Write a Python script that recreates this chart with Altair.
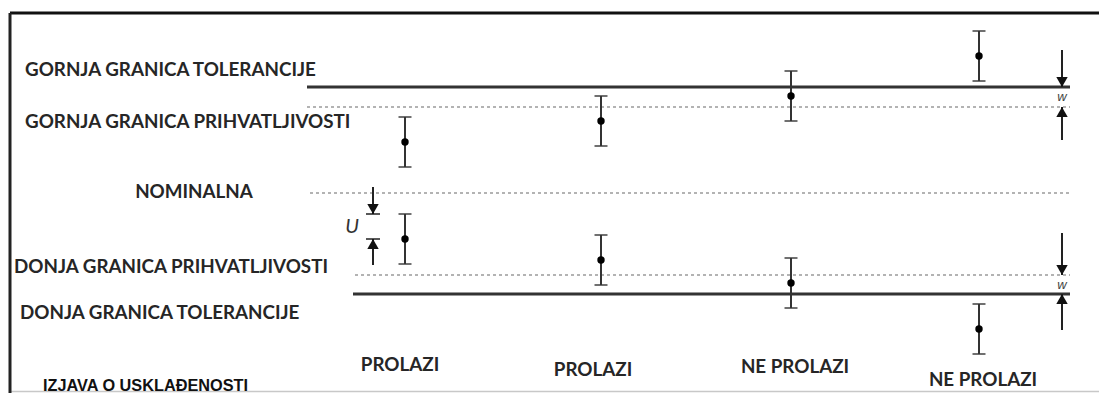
import altair as alt
import pandas as pd

# ---------------- values ----------------
# limit lines (value units: nominal = 0)
limit_names = ["GORNJA GRANICA TOLERANCIJE", "GORNJA GRANICA PRIHVATLJIVOSTI", "NOMINALNA",
               "DONJA GRANICA PRIHVATLJIVOSTI", "DONJA GRANICA TOLERANCIJE"]
limit_levels = [10.6, 8.6, 0.0, -8.2, -10.1]
limit_kind = ["solid", "dotted", "dotted", "dotted", "solid"]
limit_start = [307, 307, 310, 355, 353]
limit_end = [1070, 1070, 1070, 1070, 1070]

label_x = [25, 25, 194, 14, 20]
label_y = [12.3, 7.1, 0.1, -7.4, -12.0]
label_align = ["left", "left", "center", "left", "left"]

# measurement results with expanded uncertainty U
case_x = [405, 601, 791, 979]
upper_results = [5.1, 7.2, 9.7, 13.7]
lower_results = [-4.6, -6.7, -9.0, -13.6]
U = 2.5

verdicts = ["PROLAZI", "PROLAZI", "NE PROLAZI", "NE PROLAZI"]
verdict_x = [400, 593, 795, 983]
verdict_y = [-17.2, -17.7, -17.4, -18.7]

statement = "IZJAVA O USKLAĐENOSTI"

# guard band w arrows and U arrows (tail, tip)
w_x = 1062
w_tails = [14.3, 5.3, -4.0, -13.7]
w_tips = [limit_levels[0], limit_levels[1], limit_levels[3], limit_levels[4]]
u_x = 373
u_tails = [0.6, -7.2]
u_tips = [lower_results[0] + U, lower_results[0]]

# ---------------- tables ----------------
limits = pd.DataFrame({"name": limit_names, "level": limit_levels, "kind": limit_kind,
                       "x0": limit_start, "x1": limit_end})
labels = pd.DataFrame({"text": limit_names, "x": label_x, "y": label_y, "align": label_align})

rows = []
for x, v in zip(case_x, upper_results):
    rows.append({"x": x, "v": v})
for x, v in zip(case_x, lower_results):
    rows.append({"x": x, "v": v})
meas = pd.DataFrame(rows)
meas["lo"] = meas["v"] - U
meas["hi"] = meas["v"] + U

verd = pd.DataFrame({"text": verdicts, "x": verdict_x, "y": verdict_y})

arrows = pd.DataFrame({
    "x": [w_x] * 4 + [u_x] * 2,
    "tail": w_tails + u_tails,
    "tip": w_tips + u_tips,
    "bar": [False] * 4 + [True] * 2,
})
arrows["dir"] = ["down" if t > p else "up" for t, p in zip(arrows["tail"], arrows["tip"])]

frame_h = pd.DataFrame({"x0": [10], "x1": [1099], "y": [18.0]})
frame_v = pd.DataFrame({"x": [10], "y0": [18.0], "y1": [-20.0]})
frame_b = pd.DataFrame({"x0": [10], "x1": [1099], "y": [-19.85]})

small = pd.DataFrame({"text": ["w", "w", "U"], "x": [w_x, w_x, 352],
                      "y": [(limit_levels[0] + limit_levels[1]) / 2,
                            (limit_levels[3] + limit_levels[4]) / 2, -3.4],
                      "size": ["s", "s", "b"]})
stmt = pd.DataFrame({"text": [statement], "x": [43], "y": [-19.75]})

# ---------------- scales ----------------
xs = alt.Scale(domain=[8, 1099], nice=False, zero=False)
ys = alt.Scale(domain=[-20.0, 18.5], nice=False, zero=False)

def X(f):
    return alt.X(f, type="quantitative", scale=xs, axis=None)

def Y(f):
    return alt.Y(f, type="quantitative", scale=ys, axis=None)

DARK = "#262626"
FONT = "Lato"
FS = 18.8

solid = alt.Chart(limits).transform_filter("datum.kind == 'solid'").mark_rule(
    strokeWidth=3, color="#333333").encode(x=X("x0"), x2="x1", y=Y("level"))
dotted = alt.Chart(limits).transform_filter("datum.kind == 'dotted'").mark_rule(
    strokeWidth=2, color="#b3b3b3", strokeDash=[3, 3]).encode(x=X("x0"), x2="x1", y=Y("level"))

stems = alt.Chart(meas).mark_rule(strokeWidth=2, color="#333333").encode(
    x=X("x"), y=Y("lo"), y2="hi")
caps_lo = alt.Chart(meas).mark_tick(orient="horizontal", size=13, thickness=2, color="#333333").encode(
    x=X("x"), y=Y("lo"))
caps_hi = alt.Chart(meas).mark_tick(orient="horizontal", size=13, thickness=2, color="#333333").encode(
    x=X("x"), y=Y("hi"))
dots = alt.Chart(meas).mark_circle(size=55, color="#000000", opacity=1).encode(x=X("x"), y=Y("v"))

shafts = alt.Chart(arrows).mark_rule(strokeWidth=2, color="#222222").encode(
    x=X("x"), y=Y("tail"), y2="tip")
heads_down = alt.Chart(arrows).transform_filter("datum.dir == 'down'").mark_point(
    shape="triangle-down", filled=True, size=130, color="#111111", opacity=1, yOffset=-5).encode(
    x=X("x"), y=Y("tip"))
heads_up = alt.Chart(arrows).transform_filter("datum.dir == 'up'").mark_point(
    shape="triangle-up", filled=True, size=130, color="#111111", opacity=1, yOffset=5).encode(
    x=X("x"), y=Y("tip"))
head_bars = alt.Chart(arrows).transform_filter("datum.bar").mark_tick(
    orient="horizontal", size=14, thickness=2, color="#111111").encode(x=X("x"), y=Y("tip"))

top_border = alt.Chart(frame_h).mark_rule(strokeWidth=3, color="#111111").encode(
    x=X("x0"), x2="x1", y=Y("y"))
left_border = alt.Chart(frame_v).mark_rule(strokeWidth=3, color="#222222").encode(
    x=X("x"), y=Y("y0"), y2="y1")
bottom_border = alt.Chart(frame_b).mark_rule(strokeWidth=1.5, color="#c8c8c8").encode(
    x=X("x0"), x2="x1", y=Y("y"))

lab_left = alt.Chart(labels).transform_filter("datum.align == 'left'").mark_text(
    align="left", baseline="middle", font=FONT, fontWeight="bold", fontSize=FS, color=DARK).encode(
    x=X("x"), y=Y("y"), text="text:N")
lab_center = alt.Chart(labels).transform_filter("datum.align == 'center'").mark_text(
    align="center", baseline="middle", font=FONT, fontWeight="bold", fontSize=FS, color=DARK).encode(
    x=X("x"), y=Y("y"), text="text:N")
verd_text = alt.Chart(verd).mark_text(
    align="center", baseline="middle", font=FONT, fontWeight="bold", fontSize=FS, color=DARK).encode(
    x=X("x"), y=Y("y"), text="text:N")
w_text = alt.Chart(small).transform_filter("datum.size == 's'").mark_text(
    align="center", baseline="middle", font="Liberation Sans", fontStyle="italic", fontSize=13,
    color="#444444").encode(x=X("x"), y=Y("y"), text="text:N")
u_text = alt.Chart(small).transform_filter("datum.size == 'b'").mark_text(
    align="center", baseline="middle", font=FONT, fontStyle="italic", fontSize=20,
    color="#333333").encode(x=X("x"), y=Y("y"), text="text:N")
stmt_text = alt.Chart(stmt).mark_text(
    align="left", baseline="alphabetic", font="Liberation Sans",
    fontWeight="bold", fontSize=16.3, color="#111111").encode(x=X("x"), y=Y("y"), text="text:N")

chart = alt.layer(
    dotted, solid, bottom_border, top_border, left_border,
    stems, caps_lo, caps_hi, dots,
    shafts, heads_down, heads_up, head_bars,
    lab_left, lab_center, verd_text, w_text, u_text, stmt_text,
).properties(
    width=1091, height=385, padding=0, autosize=alt.AutoSizeParams(type="none"),
    background="white",
).configure_view(stroke=None)

chart.save("out.html", embed_options={"renderer": "svg", "actions": False})
